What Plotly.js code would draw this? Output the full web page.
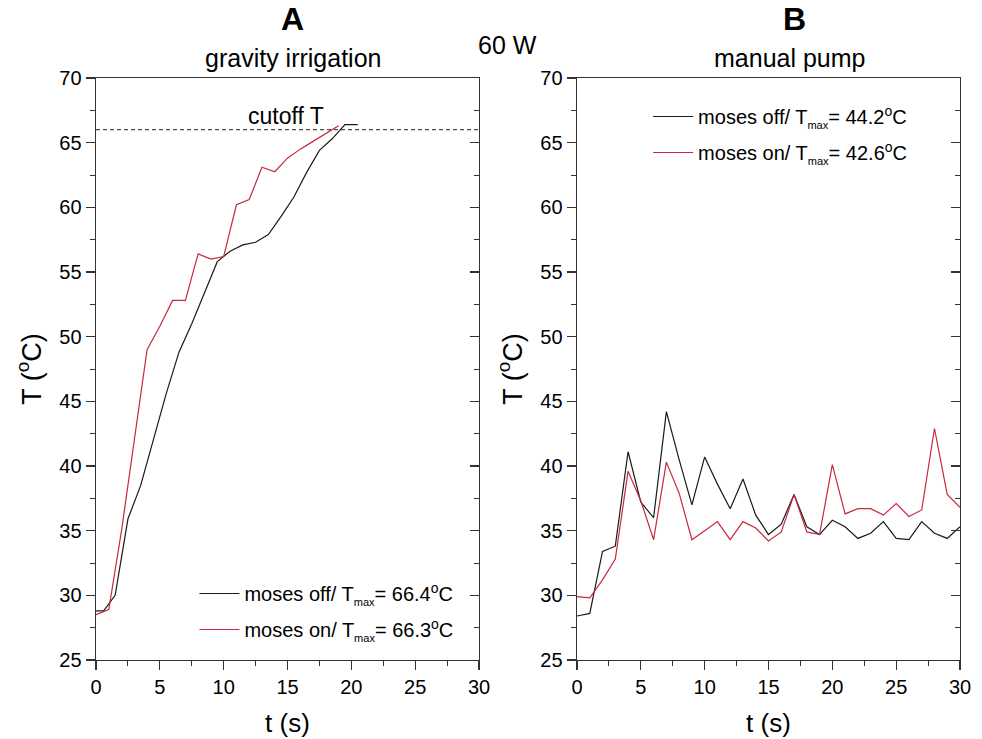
<!DOCTYPE html>
<html>
<head>
<meta charset="utf-8">
<script src="https://cdn.plot.ly/plotly-3.0.1.min.js"></script>
<style>html,body{margin:0;padding:0;background:#fff;}#chart{width:982px;height:739px;}</style>
</head>
<body>
<div id="chart"></div>
<script>
// Panel A: gravity irrigation
var tA_off = [0, 0.6, 1.5, 2.5, 3.5, 4.5, 5.5, 6.5, 7.5, 8.5, 9.5, 10.5, 11.5, 12.5, 13.5, 14.5, 15.5, 16.5, 17.5, 18.5, 19.5, 20.5];
var TA_off = [28.8, 28.8, 30.0, 35.9, 38.5, 42.0, 45.6, 48.8, 51.0, 53.4, 55.8, 56.6, 57.1, 57.3, 57.9, 59.3, 60.8, 62.7, 64.4, 65.3, 66.4, 66.4];
var tA_on = [0, 1, 2, 3, 4, 5, 6, 7, 8, 9, 10, 11, 12, 13, 14, 15, 16, 17, 18, 19];
var TA_on = [28.5, 28.9, 35.0, 42.0, 49.0, 50.8, 52.8, 52.8, 56.4, 56.0, 56.2, 60.2, 60.6, 63.1, 62.75, 63.8, 64.5, 65.1, 65.7, 66.3];
var cutoffT = 66;

// Panel B: manual pump
var tB = [0,1,2,3,4,5,6,7,8,9,10,11,12,13,14,15,16,17,18,19,20,21,22,23,24,25,26,27,28,29,30];
var TB_off = [28.4, 28.6, 33.4, 33.8, 41.1, 37.2, 36.0, 44.2, 40.5, 37.0, 40.7, 38.6, 36.7, 39.0, 36.2, 34.7, 35.5, 37.8, 35.3, 34.7, 35.8, 35.3, 34.4, 34.8, 35.7, 34.4, 34.3, 35.7, 34.8, 34.4, 35.3];
var TB_on = [29.9, 29.8, 31.2, 32.8, 39.6, 37.3, 34.3, 40.3, 37.9, 34.3, 35.0, 35.7, 34.3, 35.7, 35.2, 34.2, 34.9, 37.8, 34.9, 34.7, 40.1, 36.3, 36.7, 36.7, 36.2, 37.1, 36.1, 36.6, 42.9, 37.8, 36.8];

var SUB = '<sub><span style="font-size:11px">max</span></sub>';
var namesA = ['moses off/ T' + SUB + '= 66.4<sup>o</sup>C', 'moses on/ T' + SUB + '= 66.3<sup>o</sup>C'];
var namesB = ['moses off/ T' + SUB + '= 44.2<sup>o</sup>C', 'moses on/ T' + SUB + '= 42.6<sup>o</sup>C'];
var xTicks = [0, 5, 10, 15, 20, 25, 30];
var yTicks = [25, 30, 35, 40, 45, 50, 55, 60, 65, 70];

var BLACK = '#1a1a1a', RED = '#c8283f', AX = '#333';
var FONT = 'Liberation Sans, Arial, sans-serif';

var traces = [
  {x: tA_off, y: TA_off, name: namesA[0], legendgroup: 'a1', mode: 'lines', line: {color: BLACK, width: 1.2}, xaxis: 'x', yaxis: 'y', legend: 'legend'},
  {x: tA_on, y: TA_on, name: namesA[1], legendgroup: 'a2', mode: 'lines', line: {color: RED, width: 1.2}, xaxis: 'x', yaxis: 'y', legend: 'legend'},
  {x: [0, 30], y: [cutoffT, cutoffT], mode: 'lines', line: {color: '#222', width: 1, dash: '4px,3px'}, showlegend: false, xaxis: 'x', yaxis: 'y', hoverinfo: 'skip'},
  {x: tB, y: TB_off, name: namesB[0], legendgroup: 'b1', mode: 'lines', line: {color: BLACK, width: 1.2}, xaxis: 'x2', yaxis: 'y2', legend: 'legend2'},
  {x: tB, y: TB_on, name: namesB[1], legendgroup: 'b2', mode: 'lines', line: {color: RED, width: 1.2}, xaxis: 'x2', yaxis: 'y2', legend: 'legend2'},
  // empty traces to activate the right-side inner tick axes
  {x: [], y: [], xaxis: 'x', yaxis: 'y3', showlegend: false, hoverinfo: 'skip'},
  {x: [], y: [], xaxis: 'x2', yaxis: 'y4', showlegend: false, hoverinfo: 'skip'}
];

function xax(dom, anchor) {
  return {domain: dom, anchor: anchor, range: [0, 30], tickvals: xTicks, ticks: 'outside', ticklen: 9, tickwidth: 1.2,
    tickcolor: AX, showline: true, linecolor: AX, linewidth: 1.4, mirror: true, showgrid: false, zeroline: false,
    minor: {dtick: 2.5, tick0: 0, ticks: 'outside', ticklen: 5, tickcolor: AX, tickwidth: 1},
    tickfont: {family: FONT, size: 20, color: '#000'},
    title: {text: 't (s)', font: {family: FONT, size: 26, color: '#000'}, standoff: 16}};
}
function yax(dom, anchor) {
  return {domain: dom, anchor: anchor, range: [25, 70], tickvals: yTicks, ticks: 'outside', ticklen: 9, tickwidth: 1.2,
    tickcolor: AX, showline: true, linecolor: AX, linewidth: 1.4, mirror: true, showgrid: false, zeroline: false,
    minor: {dtick: 2.5, tick0: 25, ticks: 'outside', ticklen: 5, tickcolor: AX, tickwidth: 1},
    tickfont: {family: FONT, size: 20, color: '#000'},
    title: {text: 'T (<sup>o</sup>C)', font: {family: FONT, size: 27, color: '#000'}, standoff: 10}};
}
function yright(over, anchor) {
  return {overlaying: over, anchor: anchor, side: 'right', range: [25, 70], tickvals: yTicks, ticks: 'inside', ticklen: 9, tickwidth: 1.2,
    tickcolor: AX, showline: false, showgrid: false, zeroline: false, showticklabels: false,
    minor: {dtick: 2.5, tick0: 25, ticks: 'inside', ticklen: 5, tickcolor: AX, tickwidth: 1}};
}

var yDom = [1 - 660 / 739, 1 - 78 / 739];
var layout = {
  width: 982, height: 739,
  margin: {l: 0, r: 0, t: 0, b: 0},
  paper_bgcolor: '#fff', plot_bgcolor: '#fff',
  font: {family: FONT, color: '#000'},
  xaxis: xax([96 / 982, 479 / 982], 'y'),
  yaxis: yax(yDom, 'x'),
  xaxis2: xax([577 / 982, 960 / 982], 'y2'),
  yaxis2: yax(yDom, 'x2'),
  yaxis3: yright('y', 'x'),
  yaxis4: yright('y2', 'x2'),
  legend: {x: 0.198, y: 1 - 574 / 739, xanchor: 'left', yanchor: 'top', bgcolor: 'rgba(0,0,0,0)', traceorder: 'grouped', tracegroupgap: 7,
    font: {family: FONT, size: 20, color: '#000'}, itemwidth: 40},
  legend2: {x: 0.660, y: 1 - 97 / 739, xanchor: 'left', yanchor: 'top', bgcolor: 'rgba(0,0,0,0)', traceorder: 'grouped', tracegroupgap: 7,
    font: {family: FONT, size: 20, color: '#000'}, itemwidth: 40},
  annotations: [
    {text: '<b>A</b>', xref: 'paper', yref: 'paper', x: 292 / 982, y: 1 - 19 / 739, xanchor: 'center', yanchor: 'middle', showarrow: false, font: {family: FONT, size: 32}},
    {text: 'gravity irrigation', xref: 'paper', yref: 'paper', x: 293 / 982, y: 1 - 58 / 739, xanchor: 'center', yanchor: 'middle', showarrow: false, font: {family: FONT, size: 25}},
    {text: '60 W', xref: 'paper', yref: 'paper', x: 507 / 982, y: 1 - 45 / 739, xanchor: 'center', yanchor: 'middle', showarrow: false, font: {family: FONT, size: 25}},
    {text: '<b>B</b>', xref: 'paper', yref: 'paper', x: 794 / 982, y: 1 - 19 / 739, xanchor: 'center', yanchor: 'middle', showarrow: false, font: {family: FONT, size: 32}},
    {text: 'manual pump', xref: 'paper', yref: 'paper', x: 789 / 982, y: 1 - 58 / 739, xanchor: 'center', yanchor: 'middle', showarrow: false, font: {family: FONT, size: 25}},
    {text: 'cutoff T', xref: 'x', yref: 'y', x: 14.9, y: 67.1, xanchor: 'center', yanchor: 'middle', showarrow: false, font: {family: FONT, size: 23}}
  ],
  showlegend: true
};

Plotly.newPlot('chart', traces, layout, {staticPlot: true, displayModeBar: false});
</script>
</body>
</html>
